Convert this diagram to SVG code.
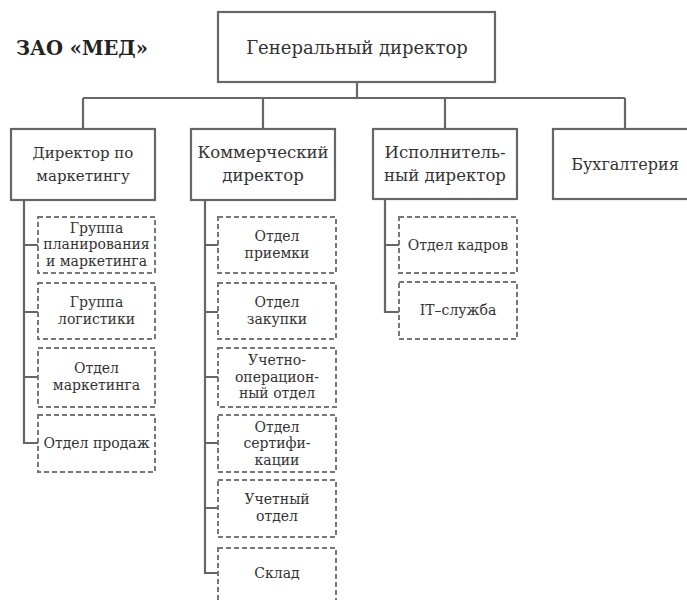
<svg xmlns="http://www.w3.org/2000/svg" width="687" height="600" viewBox="0 0 687 600">
<style>
  .box { fill: #fff; stroke: #666; stroke-width: 2.2; }
  .dbox { fill: #fff; stroke: #777; stroke-width: 2; stroke-dasharray: 5 3; }
  .conn { fill: none; stroke: #666; stroke-width: 2.2; }
  text { fill: #333; text-anchor: middle; font-family: "DejaVu Serif", "Liberation Serif", serif; }
  .t1 { font-size: 18px; }
  .t2 { font-size: 16.5px; }
  .t2s { font-size: 15px; }
  .t2b { font-size: 16px; }
  .t3 { font-size: 14px; }
  .title { font-size: 19.5px; font-weight: bold; text-anchor: start; fill: #222; }
</style>
<rect width="687" height="600" fill="#fff"/>
<text class="title" x="16" y="55">ЗАО «МЕД»</text>

<g id="connectors">
  <path class="conn" d="M357 82 V98 M83 98 H625 M83 98 V129 M263 98 V129 M445 98 V129 M625 98 V129"/>
  <path class="conn" d="M24 200 V443 H38 M24 245 H38 M24 312 H38 M24 377 H38"/>
  <path class="conn" d="M205 200 V573 H218 M205 245 H218 M205 312 H218 M205 377 H218 M205 443 H218 M205 508 H218"/>
  <path class="conn" d="M385 199 V312 H399 M385 245 H399"/>
</g>

<g id="gen-director">
  <rect class="box" x="218" y="12" width="277" height="70"/>
  <text class="t1" x="357" y="54">Генеральный директор</text>
</g>

<g id="dir-marketing">
  <rect class="box" x="11" y="129" width="144" height="71"/>
  <text class="t2s" x="83" y="158">Директор по</text>
  <text class="t2s" x="83" y="181">маркетингу</text>
</g>
<g id="dir-commercial">
  <rect class="box" x="191" y="129" width="144" height="71"/>
  <text class="t2" x="263" y="158">Коммерческий</text>
  <text class="t2" x="263" y="181">директор</text>
</g>
<g id="dir-exec">
  <rect class="box" x="373" y="129" width="144" height="70"/>
  <text class="t2" x="445" y="158">Исполнитель-</text>
  <text class="t2" x="445" y="181">ный директор</text>
</g>
<g id="accounting">
  <rect class="box" x="553" y="129" width="150" height="70"/>
  <text class="t2b" x="625" y="170">Бухгалтерия</text>
</g>

<g id="grp-planning">
  <rect class="dbox" x="38" y="217" width="117" height="56"/>
  <text class="t3" x="96.5" y="232.5">Группа</text>
  <text class="t3" x="96.5" y="249">планирования</text>
  <text class="t3" x="96.5" y="265.5">и маркетинга</text>
</g>
<g id="grp-logistics">
  <rect class="dbox" x="38" y="283" width="117" height="56"/>
  <text class="t3" x="96.5" y="307">Группа</text>
  <text class="t3" x="96.5" y="323.5">логистики</text>
</g>
<g id="dept-marketing">
  <rect class="dbox" x="38" y="348" width="117" height="59"/>
  <text class="t3" x="96.5" y="373">Отдел</text>
  <text class="t3" x="96.5" y="389.5">маркетинга</text>
</g>
<g id="dept-sales">
  <rect class="dbox" x="38" y="415" width="117" height="57"/>
  <text class="t3" x="96.5" y="448">Отдел продаж</text>
</g>

<g id="dept-receiving">
  <rect class="dbox" x="218" y="217" width="118" height="56"/>
  <text class="t3" x="277" y="241">Отдел</text>
  <text class="t3" x="277" y="257.5">приемки</text>
</g>
<g id="dept-purchasing">
  <rect class="dbox" x="218" y="283" width="118" height="56"/>
  <text class="t3" x="277" y="307">Отдел</text>
  <text class="t3" x="277" y="323.5">закупки</text>
</g>
<g id="dept-accounting-ops">
  <rect class="dbox" x="218" y="348" width="118" height="59"/>
  <text class="t3" x="277" y="365">Учетно-</text>
  <text class="t3" x="277" y="381.5">операцион-</text>
  <text class="t3" x="277" y="398">ный отдел</text>
</g>
<g id="dept-certification">
  <rect class="dbox" x="218" y="415" width="118" height="57"/>
  <text class="t3" x="277" y="431.5">Отдел</text>
  <text class="t3" x="277" y="448">сертифи-</text>
  <text class="t3" x="277" y="464.5">кации</text>
</g>
<g id="dept-accounting">
  <rect class="dbox" x="218" y="480" width="118" height="57"/>
  <text class="t3" x="277" y="504">Учетный</text>
  <text class="t3" x="277" y="520.5">отдел</text>
</g>
<g id="warehouse">
  <rect class="dbox" x="218" y="548" width="118" height="60"/>
  <text class="t3" x="277" y="578">Склад</text>
</g>

<g id="dept-hr">
  <rect class="dbox" x="399" y="217" width="118" height="56"/>
  <text class="t3" x="458" y="250">Отдел кадров</text>
</g>
<g id="it-service">
  <rect class="dbox" x="399" y="282" width="118" height="57"/>
  <text class="t3" x="458" y="315">IT–служба</text>
</g>
</svg>
